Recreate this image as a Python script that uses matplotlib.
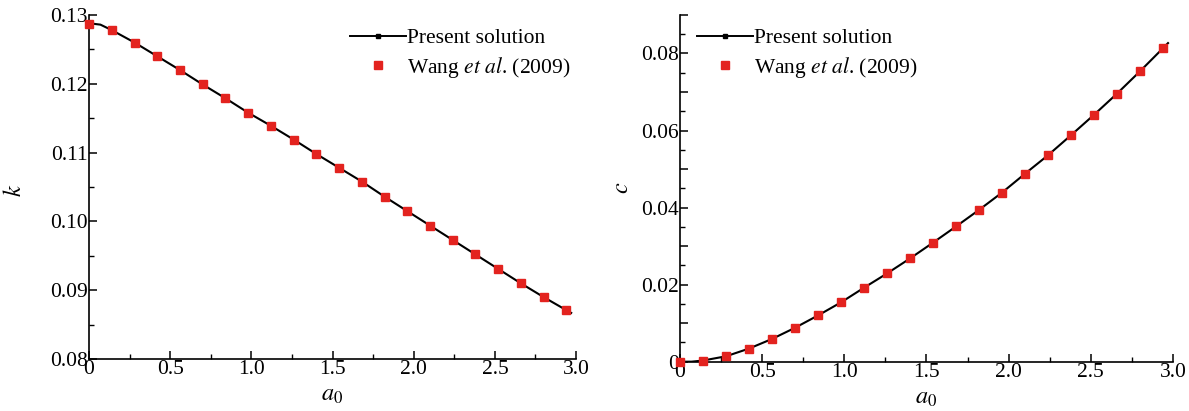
import matplotlib
matplotlib.use('Agg')
import matplotlib.pyplot as plt
from matplotlib.ticker import MultipleLocator, FuncFormatter
from matplotlib.lines import Line2D

plt.rcParams['font.family'] = ['Liberation Serif', 'DejaVu Serif']
plt.rcParams['mathtext.fontset'] = 'stix'

# data
a0 = [0.00, 0.14, 0.28, 0.42, 0.56, 0.70, 0.84, 0.98, 1.12, 1.26, 1.40,
      1.54, 1.68, 1.82, 1.96, 2.10, 2.24, 2.38, 2.52, 2.66, 2.80, 2.94]
k_wang = [0.1287, 0.1278, 0.1260, 0.1240, 0.1220, 0.1199, 0.1179, 0.1158,
          0.1139, 0.1119, 0.1098, 0.1078, 0.1058, 0.1036, 0.1015, 0.0994,
          0.0973, 0.0952, 0.0931, 0.0910, 0.0890, 0.0871]
c_wang = [0.0000, 0.0003, 0.0014, 0.0034, 0.0059, 0.0088, 0.0120, 0.0154,
          0.0192, 0.0229, 0.0268, 0.0309, 0.0351, 0.0394, 0.0439, 0.0488,
          0.0536, 0.0588, 0.0641, 0.0696, 0.0754, 0.0814]

a0_line = [0.00, 0.07, 0.14, 0.28, 0.42, 0.56, 0.70, 0.84, 0.98, 1.12, 1.26, 1.40,
           1.54, 1.68, 1.82, 1.96, 2.10, 2.24, 2.38, 2.52, 2.66, 2.80, 2.94, 2.97]
k_line = [0.1288, 0.1286, 0.1278, 0.1260, 0.1240, 0.1220, 0.1199, 0.1179, 0.1158,
          0.1139, 0.1119, 0.1098, 0.1078, 0.1058, 0.1036, 0.1015, 0.0994,
          0.0973, 0.0952, 0.0931, 0.0910, 0.0890, 0.0871, 0.0867]
c_line = [0.0000, 0.0000, 0.0003, 0.0014, 0.0034, 0.0059, 0.0088, 0.0120, 0.0154,
          0.0192, 0.0229, 0.0268, 0.0309, 0.0351, 0.0394, 0.0439, 0.0488,
          0.0536, 0.0588, 0.0641, 0.0696, 0.0754, 0.0814, 0.0827]

RED = '#e3231f'
FS = 15.5
MS = 5.5

fig = plt.figure(figsize=(11.89, 4.11), dpi=100)
axL = fig.add_axes([0.0749, 0.1265, 0.4096, 0.837])
axR = fig.add_axes([0.5719, 0.1200, 0.4146, 0.8436])


def style(ax, ymaj, ymin):
    for s in ('top', 'right'):
        ax.spines[s].set_visible(False)
    for s in ('left', 'bottom'):
        ax.spines[s].set_linewidth(1.2)
    ax.set_xlim(0, 3.0)
    ax.xaxis.set_major_locator(MultipleLocator(0.5))
    ax.xaxis.set_minor_locator(MultipleLocator(0.25))
    ax.yaxis.set_major_locator(MultipleLocator(ymaj))
    ax.yaxis.set_minor_locator(MultipleLocator(ymin))
    ax.xaxis.set_major_formatter(FuncFormatter(lambda v, p: '0' if abs(v) < 1e-9 else f'{v:.1f}'))
    ax.tick_params(which='major', direction='in', length=6, width=1.1, labelsize=FS, pad=1)
    ax.tick_params(which='minor', direction='in', length=3.5, width=1.0)


def legend(ax, x, y):
    h1 = Line2D([], [], color='black', lw=1.4, marker='s', markersize=3)
    h2 = Line2D([], [], color=RED, lw=0, marker='s', markersize=MS)
    ax.legend([h1, h2], ['Present solution', r'Wang $\it{et\ al}$. (2009)'],
              loc='upper left', bbox_to_anchor=(x, y), frameon=False,
              fontsize=FS, numpoints=1, handlelength=2.6, handletextpad=0.05,
              borderpad=0, borderaxespad=0, labelspacing=0.3)


# left: k
axL.plot(a0_line, k_line, color='black', lw=1.5, zorder=2)
axL.plot(a0, k_wang, 's', color=RED, markersize=MS, zorder=3, clip_on=False)
style(axL, 0.01, 0.005)
axL.set_ylim(0.08, 0.13)
axL.yaxis.set_major_formatter(FuncFormatter(lambda v, p: f'{v:.2f}'))
axL.set_ylabel(r'$k$', fontsize=FS + 2)
axL.yaxis.set_label_coords(-0.13, 0.49)
axL.set_xlabel(r'$a_0$', fontsize=FS + 2)
axL.xaxis.set_label_coords(0.5, -0.075)
legend(axL, 0.536, 0.962)

# right: c
axR.plot(a0_line, c_line, color='black', lw=1.5, zorder=2)
axR.plot(a0, c_wang, 's', color=RED, markersize=MS, zorder=3, clip_on=False)
style(axR, 0.01, 0.005)
axR.set_ylim(0, 0.09)


def cfmt(v, p):
    if abs(v) < 1e-9:
        return '0'
    if round(v / 0.01) % 2 == 1:
        return ''
    return f'{v:.2f}'


axR.yaxis.set_major_formatter(FuncFormatter(cfmt))
axR.set_ylabel(r'$c$', fontsize=FS + 2)
axR.yaxis.set_label_coords(-0.095, 0.5)
axR.set_xlabel(r'$a_0$', fontsize=FS + 2)
axR.xaxis.set_label_coords(0.5, -0.075)
legend(axR, 0.034, 0.962)

fig.savefig('out.png', dpi=100)
